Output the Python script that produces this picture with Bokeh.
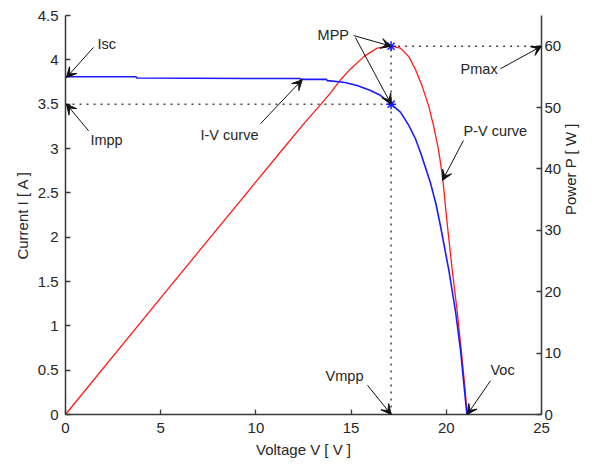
import math
from bokeh.plotting import figure
from bokeh.models import Range1d, LinearAxis, Label, Arrow, VeeHead
from bokeh.embed import file_html
from bokeh.resources import INLINE

# ---- data ----
iv_voltage = [0, 3.7, 3.75, 9.7, 12.3, 12.35, 13.7, 13.75, 14.62, 15.32, 16.02,
              16.54, 17.1, 17.59, 18.03, 18.38, 18.7, 19.17, 19.45, 19.70, 20.13, 20.48,
              20.75, 20.92, 21.08]
iv_current = [3.81, 3.81, 3.795, 3.79, 3.79, 3.78, 3.78, 3.765, 3.748, 3.71, 3.654,
              3.60, 3.50, 3.41, 3.26, 3.11, 2.92, 2.61, 2.38, 2.12, 1.63, 1.17,
              0.72, 0.35, 0.0]

pv_voltage = [0, 5, 10, 11.3, 12.5, 13.2, 13.92, 14.44, 14.97, 15.67, 16.37, 17.1,
              17.59, 18.03, 18.38, 18.73, 19.08, 19.34, 19.58, 19.72, 19.84, 20.05,
              20.31, 20.57, 20.78, 20.96, 21.1]
pv_power = [0, 19.0, 37.9, 42.8, 47.3, 49.8, 52.4, 54.5, 56.3, 58.3, 59.7, 60.0,
            59.7, 58.3, 56.2, 53.5, 50.2, 46.9, 43.3, 40.5, 37.6, 31.0,
            23.6, 16.9, 10.6, 5.0, 0]

isc = 3.8
voc = 21.1
vmpp = 17.1
impp = 3.5
pmax = 60.0

x_ticks = [0, 5, 10, 15, 20, 25]
x_tick_labels = ["0", "5", "10", "15", "20", "25"]
i_ticks = [0, 0.5, 1, 1.5, 2, 2.5, 3, 3.5, 4, 4.5]
i_tick_labels = ["0", "0.5", "1", "1.5", "2", "2.5", "3", "3.5", "4", "4.5"]
p_ticks = [0, 10, 20, 30, 40, 50, 60]
p_tick_labels = ["0", "10", "20", "30", "40", "50", "60"]

x_lim = (0, 25)
i_lim = (0, 4.5)
p_lim = (0, 65)

FONT = "Liberation Sans"
TXT = "#262626"
AX = "#3a3a3a"

p = figure(width=594, height=465, output_backend="svg", toolbar_location=None,
           x_range=Range1d(*x_lim), y_range=Range1d(*i_lim),
           min_border_left=65, min_border_right=53, min_border_top=15,
           min_border_bottom=51)
p.extra_y_ranges = {"power": Range1d(*p_lim)}
p.outline_line_color = None
p.grid.visible = False
p.background_fill_color = "white"
p.border_fill_color = "white"

right_axis = LinearAxis(y_range_name="power")
p.add_layout(right_axis, "right")


def style_axis(ax, ticks, labels, standoff, label_text, label_standoff):
    ax.ticker = ticks
    ax.major_label_overrides = {t: l for t, l in zip(ticks, labels)}
    ax.major_tick_in = 5
    ax.major_tick_out = 0
    ax.minor_tick_line_color = None
    ax.axis_line_color = AX
    ax.axis_line_width = 1.5
    ax.major_tick_line_color = AX
    ax.major_tick_line_width = 1.3
    ax.major_label_text_font = FONT
    ax.major_label_text_font_size = "15px"
    ax.major_label_text_color = TXT
    ax.major_label_standoff = standoff
    ax.axis_label = label_text
    ax.axis_label_text_font = FONT
    ax.axis_label_text_font_size = "15px"
    ax.axis_label_text_font_style = "normal"
    ax.axis_label_text_color = TXT
    ax.axis_label_standoff = label_standoff


style_axis(p.xaxis[0], x_ticks, x_tick_labels, 8, "Voltage V [ V ]", 5)
style_axis(p.yaxis[0], i_ticks, i_tick_labels, 7, "Current I [ A ]", 4)
style_axis(right_axis, p_ticks, p_tick_labels, 3, "Power P [ W ]", 6)
right_axis.axis_label_orientation = math.pi / 2

# power -> current-axis scale conversion for annotations
k = (i_lim[1] - i_lim[0]) / (p_lim[1] - p_lim[0])
pmax_i = pmax * k

# dotted guide lines
dot = dict(line_color="#444444", line_width=1.5, line_dash="2 5")
p.line([x_lim[0], vmpp], [impp, impp], **dot)
p.line([vmpp, vmpp], [0, pmax], y_range_name="power", **dot)
p.line([vmpp, x_lim[1]], [pmax, pmax], y_range_name="power", **dot)

# curves
p.line(pv_voltage, pv_power, y_range_name="power", line_color="#ff1a1a", line_width=1.3,
       line_join="round")
p.line(iv_voltage, iv_current, line_color="#1a1aff", line_width=1.6, line_join="round")

# MPP markers
p.scatter([vmpp], [impp], marker="asterisk", size=10, line_color="#1a1aff", line_width=1.5)
p.scatter([vmpp], [pmax], marker="asterisk", size=10, line_color="#1a1aff",
          line_width=1.5, y_range_name="power")

# annotations: text, label position, arrows (tail -> tip)
annots = [
    ("Isc", 1.68, 4.18, [(1.47, 4.14, 0.05, isc)]),
    ("Impp", 1.31, 3.10, [(1.21, 3.20, 0.05, impp)]),
    ("I-V curve", 7.09, 3.15, [(10.24, 3.28, 12.43, 3.775)]),
    ("MPP", 13.24, 4.28, [(15.13, 4.274, vmpp, pmax_i), (15.23, 4.25, vmpp, impp)]),
    ("Pmax", 20.75, 3.90, [(22.85, 3.90, x_lim[1], pmax_i)]),
    ("P-V curve", 20.9, 3.20, [(20.9, 3.09, 19.8, 2.64)]),
    ("Vmpp", 13.66, 0.43, [(15.86, 0.33, vmpp, 0.0)]),
    ("Voc", 22.32, 0.50, [(22.32, 0.38, voc, 0.0)]),
]
for text, lx, ly, arrows in annots:
    p.add_layout(Label(x=lx, y=ly, text=text, text_align="left", text_baseline="middle",
                       text_font=FONT, text_font_size="14.5px", text_color=TXT))
    for x0, y0, x1, y1 in arrows:
        p.add_layout(Arrow(x_start=x0, y_start=y0, x_end=x1, y_end=y1,
                           line_color="#111111", line_width=1,
                           end=VeeHead(size=10, fill_color="#111111",
                                       line_color="#111111", line_width=1)))

open("out.html", "w").write(file_html(p, INLINE))
